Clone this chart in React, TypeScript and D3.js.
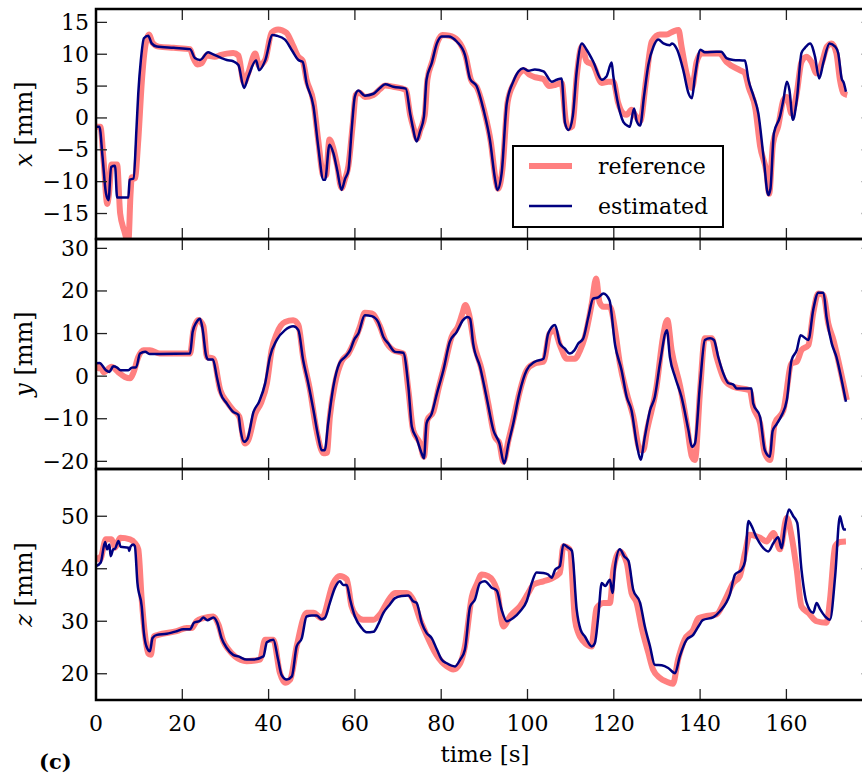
import React from "react";
import * as d3 from "d3";

// shared time axis
const timeTicks = [0, 20, 40, 60, 80, 100, 120, 140, 160];
const xTicks = [-15, -10, -5, 0, 5, 10, 15];
const yTicks = [-20, -10, 0, 10, 20, 30];
const zTicks = [20, 30, 40, 50];

// x [mm]: [time, value]
const xEst: [number, number][] = [
  [0, -1.4], [0.8, -1.4], [1.5, -6], [2.3, -11.8], [2.9, -12.9], [3.5, -7.7], [4.4, -7.5], [4.9, -12.5],
  [7.5, -12.5], [7.8, -9.7], [8.7, -9.5], [9.4, -1.4], [9.8, 3.9], [10.4, 9.1], [11.1, 12.5], [12.1, 12.9],
  [12.9, 11.7], [14.1, 11.2], [18, 11.0], [21.8, 10.8], [22.9, 9.4], [24.1, 9.1], [26, 10.3], [26.8, 10.1],
  [29.1, 9.4], [30.3, 9.1], [31.8, 8.9], [33, 8.3], [34.3, 4.7], [35.3, 6.5], [37.1, 9.0], [37.8, 7.5],
  [39.2, 9.0], [40.9, 13.0], [41.9, 12.9], [43.8, 12.3], [45.5, 10.5], [46.9, 9.1], [47.9, 8.8], [48.8, 5.5],
  [50.4, 1.8], [51.5, -4.5], [52.7, -9.7], [53.1, -9.7], [54.1, -4.2], [55, -5.5], [55.9, -8.2], [56.9, -11.3],
  [57.7, -9.6], [58.5, -8.2], [59.3, -1.4], [60, 3.4], [60.8, 4.3], [62.3, 3.5], [64.3, 3.8], [65.8, 4.7],
  [67, 5.3], [68.9, 4.9], [71.8, 4.6], [72.8, 0.7], [73.4, -1.4], [74.3, -3.7], [75.1, -2.1], [76, 0.2],
  [76.6, 6.0], [77.8, 8.6], [79, 11.7], [80.1, 12.8], [81.7, 12.8], [83.6, 12.0], [85.5, 9.9], [86.7, 6.1],
  [88.2, 5.0], [89.8, 1.3], [91.3, -3.5], [92.5, -9.7], [93, -11.3], [94, -8.7], [95.2, 2.3], [96.7, 5.7],
  [97.9, 7.3], [99, 7.8], [100.2, 7.4], [101.7, 7.6], [103.7, 7.3], [105.6, 5.7], [106.8, 6.0], [107.9, 6.2],
  [108.7, -0.8], [109.5, -1.9], [110.5, 0.3], [111.4, 7.3], [112.6, 11.7], [113.7, 10.7], [115.2, 8.9],
  [117.2, 6.0], [118.3, 6.5], [119.5, 8.7], [119.9, 6.5], [120.8, 2.8], [122.2, -0.6], [123.4, -1.3],
  [123.7, -1.4], [124.7, 1.5], [125.3, -0.5], [126.1, -1.2], [127, 3.4], [128, 8.3], [129.2, 11.2],
  [130.3, 12.3], [131.5, 11.7], [133, 11.4], [133.5, 11.7], [134.7, 10.7], [136.1, 7.5], [137.3, 3.9],
  [138.1, 3.1], [138.8, 6.5], [140.1, 10.7], [141.1, 10.3], [143.8, 10.4], [144.9, 10.4], [146.1, 9.4],
  [147.7, 9.1], [150.4, 9.0], [151.2, 6.0], [152.4, 3.4], [153.5, 0.7], [154.7, -6.1], [155.8, -12.1],
  [156.3, -11.1], [157.1, -2.4], [158.5, 0.2], [159.3, 2.8], [160.1, 5.7], [160.7, 4.4], [161.5, -0.3],
  [162.4, 2.8], [163.5, 10.2], [164.3, 11.0], [165.5, 11.7], [166.6, 9.7], [167.6, 6.2], [168.6, 8.8],
  [170, 11.7], [171.3, 11.2], [172, 10.2], [172.8, 6.2], [173.3, 5.5], [173.8, 4.1],
];

const xRef: [number, number][] = [
  [0, -1.4], [1.0, -1.4], [1.8, -7], [2.6, -13.5], [3.0, -12], [3.6, -7.3], [4.9, -7.3], [5.6, -15],
  [6.5, -17.6], [7.5, -19.5], [8.0, -12], [8.3, -9.3], [9.0, -9.5], [9.8, -3.5], [10.6, 5.5], [11.3, 10.7],
  [12.3, 13.1], [13.1, 11.8], [14.5, 11.2], [18, 11.0], [21.8, 10.8], [22.5, 9.5], [23.5, 8.4], [24.5, 8.6],
  [25.6, 9.8], [27.5, 9.6], [29, 9.9], [30.3, 10.1], [31.8, 10.2], [33, 9.8], [34.3, 5.5], [35.3, 7.1],
  [36.9, 10.1], [37.8, 8.2], [39.2, 9.1], [40.7, 13.4], [42.2, 13.9], [44.1, 13.4], [45.7, 11.3], [46.9, 9.6],
  [47.9, 9.0], [48.8, 6.0], [50.4, 2.5], [51.5, -3.5], [52.7, -9.0], [53.3, -9.0], [54.1, -3.4], [55, -4.8],
  [55.9, -7.5], [56.9, -11.0], [57.7, -9.6], [58.5, -7.5], [59.5, -1.0], [60.2, 3.6], [61, 4.0], [62.3, 3.3],
  [64.3, 3.6], [65.8, 4.5], [67, 5.1], [68.9, 4.9], [71.8, 4.4], [72.8, 0.5], [73.6, -1.6], [74.4, -3.3],
  [75.2, -1.8], [76.2, 0.5], [76.8, 6.0], [78, 9.0], [79.2, 12.0], [80.3, 13.0], [81.9, 12.9], [83.8, 12.2],
  [85.7, 9.6], [86.9, 6.0], [88.4, 4.6], [90, 1.0], [91.5, -3.8], [92.7, -10], [93.2, -11.1], [94.2, -8.0],
  [95.4, 2.5], [96.9, 5.5], [98.1, 7.0], [99.2, 7.5], [100.4, 6.8], [101.7, 6.4], [103.7, 6.1], [105, 5.0],
  [106.5, 5.2], [107.9, 5.5], [108.9, -0.5], [109.6, -1.6], [110.4, -1.3], [111.4, 6.5], [112.6, 11.2],
  [113.7, 8.9], [115.2, 8.3], [117.2, 5.5], [118.7, 5.7], [119.9, 5.7], [121, 2.4], [122.2, 0.7], [123, 0.5],
  [124.1, 1.3], [124.9, 0.5], [126.1, -0.5], [127.5, 6.0], [128.8, 12.0], [130.7, 13.1], [132.2, 13.1],
  [133.8, 13.6], [135, 13.8], [135.7, 11.2], [136.9, 6.9], [138.1, 4.7], [139.2, 8.8], [140.3, 10.1],
  [144.5, 10.1], [146.1, 8.8], [149.2, 7.5], [150.3, 7.1], [151.3, 4.7], [152.8, 1.5], [153.9, -4.4],
  [155.4, -8.6], [156, -11.9], [156.9, -4], [158.1, -1.3], [159.3, 2.8], [160.1, 3.3], [161.2, 0.7],
  [162.4, 3.9], [163.5, 8.8], [164.7, 9.6], [165.8, 8.8], [167, 7.0], [168.2, 8.6], [169.4, 11.2],
  [170.5, 11.7], [171.6, 10.1], [172.4, 6.0], [173.2, 3.9], [174.1, 3.6],
];

// y [mm]
const yEst: [number, number][] = [
  [0, 3.0], [0.8, 3.1], [2.3, 1.4], [3.1, 1.0], [4.0, 2.3], [4.9, 2.0], [5.7, 1.4], [7.5, 1.4], [8.3, 2.0],
  [9.3, 2.1], [10.2, 5.3], [11.4, 5.7], [12.5, 5.2], [14.8, 5.2], [21.8, 5.3], [22.4, 10.4], [23.3, 12.7],
  [24.1, 13.5], [24.7, 11.1], [25.5, 4.9], [26, 3.9], [27.1, 3.9], [28, -0.2], [28.9, -4.1], [30.3, -6.4],
  [31.8, -8.4], [33, -9.1], [33.5, -12.7], [34.3, -15.4], [35.1, -14.7], [36.5, -8.4], [37.8, -6.0],
  [39.2, -1.7], [40.3, 4.5], [41.9, 8.5], [43.8, 10.8], [45.7, 11.7], [46.9, 10.8], [48, 3.8], [49.2, -1.7],
  [50.4, -8.0], [51.5, -14.2], [52.3, -17.4], [53, -17.4], [53.8, -11.1], [55, -2.5], [56.4, 3.0],
  [57.7, 4.5], [58.9, 6.1], [59.8, 8.5], [60.8, 10.0], [62.3, 14.3], [63.9, 14.1], [65.4, 12.7], [66.6, 9.2],
  [67.7, 7.7], [69.3, 5.7], [71.2, 5.5], [72.4, -2.5], [73.2, -11.9], [74.3, -14.6], [75.5, -18.2],
  [76, -19.3], [76.6, -11.1], [77.8, -8.8], [79, -4.1], [80.5, 1.4], [82, 8.1], [83.6, 10.4], [85, 13.1],
  [86.1, 13.9], [86.7, 13.5], [87.4, 7.7], [89, 2.2], [90.5, -4.9], [92.1, -12.7], [93.5, -15.8],
  [94.6, -20.5], [95.6, -15.8], [96.7, -11.1], [98.1, -4.1], [99.8, 1.4], [101.7, 3.4], [103.7, 4.1],
  [104.8, 10.0], [106.4, 12.0], [107.5, 7.7], [108.6, 6.5], [109.8, 5.3], [110.8, 6.0], [111.8, 7.7],
  [112.9, 8.8], [114.1, 13.9], [115.2, 18.2], [116.4, 18.5], [117.6, 19.4], [119, 17.8], [120.3, 7.3],
  [121.8, 1.4], [123, -4.9], [124.1, -8.0], [125.3, -15.8], [126.2, -19.6], [127.2, -14.2], [128.4, -8.0],
  [129.5, -4.9], [130.7, 3.0], [132.3, 10.8], [133, 4.5], [134.2, -0.2], [135.7, -4.9], [137.3, -12.7],
  [138.1, -16.6], [138.8, -15.8], [140, -1.7], [141.1, 8.5], [142.3, 8.9], [143.2, 8.5], [144.2, 4.5],
  [145.4, 0.6], [146.5, -1.6], [147.7, -2.0], [148.5, -2.9], [151.9, -2.9], [152.3, -6.4], [153.9, -9.6],
  [155, -17.4], [156.2, -18.9], [156.8, -12.9], [157.7, -11.3], [158.9, -9.2], [160.1, -5.6], [161.2, 3.8],
  [162.4, 6.1], [163.3, 9.6], [165.1, 8.5], [166.2, 15.5], [167.4, 19.6], [168.6, 19.6], [169.3, 13.9],
  [170.5, 7.7], [171.6, 4.5], [172.8, -0.9], [173.8, -6.0],
];

const yRef: [number, number][] = [
  [0, 1.4], [0.8, 2.5], [1.8, 0.9], [3.6, 2.2], [5.2, 0.9], [6.7, -0.2], [7.9, -0.5], [8.7, 0.9], [9.8, 4.5],
  [11, 6.1], [12.5, 6.1], [14.8, 5.3], [21.8, 5.3], [22.6, 10.8], [23.7, 13.2], [24.9, 11.7], [25.7, 4.5],
  [27.2, 4.1], [28.8, -3.3], [30.3, -6.0], [31.8, -8.0], [33.2, -9.5], [34.5, -15.8], [35.3, -15.0],
  [36.9, -8.8], [38.2, -6.4], [39.6, -1.7], [40.7, 6.1], [41.9, 10.0], [43.8, 12.7], [45.7, 13.1],
  [46.9, 12.0], [48, 4.5], [49.6, -3.3], [51.1, -12.7], [52.7, -18.1], [53.5, -18.0], [54.2, -9.5],
  [55.4, -1.7], [56.9, 3.4], [58.5, 5.3], [60, 8.5], [61.2, 11.7], [62.3, 14.9], [63.9, 14.7], [65.8, 11.7],
  [67, 8.5], [68.9, 6.1], [71.2, 5.3], [72.4, -3.3], [73.5, -12.7], [75.1, -15.8], [76, -18.9],
  [76.8, -10.3], [78.2, -8.3], [79.3, -3.3], [80.9, 3.0], [82.4, 9.2], [83.9, 11.7], [84.9, 14.7],
  [85.6, 16.7], [86.5, 14.3], [87.6, 7.7], [89.4, 1.4], [90.9, -6.4], [92.4, -14.2], [93.5, -15.8],
  [94.4, -20.1], [95.6, -15.0], [96.9, -9.5], [98.1, -4.0], [99.8, 1.4], [101.7, 3.0], [103.7, 3.4],
  [105.1, 10.0], [106.2, 10.8], [107.6, 7.0], [109.1, 4.1], [111, 4.1], [112.2, 6.1], [113.3, 9.2],
  [114.9, 17.1], [115.9, 22.9], [116.7, 17.4], [117.6, 16.3], [119.1, 16.3], [120.3, 10.8], [121.4, 3.0],
  [123, -4.0], [124.5, -9.5], [126.1, -17.4], [126.8, -17.4], [127.7, -12.7], [129.9, -2.5], [131.4, 9.2],
  [132.4, 13.2], [133.4, 6.1], [135.4, -2.5], [136.9, -11.1], [138.1, -18.9], [138.8, -19.7], [140, -3.3],
  [141.1, 8.9], [142.7, 8.9], [143.8, 4.5], [145.7, -1.0], [147.7, -2.5], [151.5, -3.3], [152.3, -7.2],
  [153.9, -11.1], [155, -18.1], [156.2, -19.7], [157.3, -11.1], [159.3, -8.0], [161.2, 3.0], [162.4, 3.4],
  [163.5, 6.1], [165.1, 7.3], [166.2, 14.7], [167.4, 19.4], [168.6, 19.0], [169.7, 12.4], [170.9, 8.5],
  [172, 3.8], [174, -5.6],
];

// z [mm]
const zEst: [number, number][] = [
  [0, 40.5], [1.1, 41.2], [2.1, 45.1], [2.6, 43.7], [3.1, 44.6], [3.4, 42.4], [4.0, 43.7], [4.4, 43.8],
  [5.2, 45.3], [5.7, 44.2], [7.5, 44.0], [7.7, 43.4], [8.0, 44.2], [8.6, 44.6], [9.0, 44.3], [9.6, 37.3],
  [10.6, 32.8], [11.1, 27.8], [11.7, 25.2], [12.5, 24.3], [13.1, 26.8], [14.1, 27.4], [16.4, 27.6],
  [18.7, 28.1], [20.2, 28.5], [21.8, 28.5], [22.7, 29.7], [24.1, 30.1], [24.9, 30.7], [25.8, 30.2],
  [27.2, 30.7], [28.1, 29.7], [29.1, 26.8], [30.3, 24.9], [31.8, 23.6], [33, 23.3], [34.9, 22.7],
  [36.4, 22.7], [38.8, 23.3], [39.6, 26.0], [41.1, 26.5], [42.2, 22.7], [43, 19.8], [44.2, 18.9],
  [45.4, 19.5], [46.5, 25.2], [47.7, 26.8], [48.8, 30.9], [50, 31.1], [51.1, 31.1], [52.3, 30.4], [53, 30.6],
  [54.2, 33.5], [55.4, 36.4], [56.5, 37.6], [57.3, 36.9], [58.1, 36.9], [58.9, 34.1], [60, 30.9],
  [61.6, 28.7], [62.7, 27.9], [64.3, 28.0], [65.4, 29.4], [66.6, 31.6], [68.1, 33.2], [69.3, 34.4],
  [70.8, 34.8], [72.4, 34.9], [73.5, 33.8], [74.3, 33.5], [75.5, 29.7], [76.6, 27.8], [77.8, 26.8],
  [79, 24.6], [80.1, 22.7], [81.3, 22.0], [83.2, 21.4], [84.4, 22.7], [85.5, 24.6], [86.7, 32.8],
  [87.8, 34.1], [89, 37.3], [90.1, 37.6], [91.7, 36.4], [92.9, 35.8], [94, 32.2], [95.2, 30.0], [96.7, 30.6],
  [98.3, 31.9], [99.8, 33.8], [101, 37.3], [102.1, 39.3], [103.7, 39.2], [104.8, 38.9], [105.6, 38.3],
  [106.4, 39.8], [107.5, 40.5], [108.3, 44.6], [109.5, 44.0], [110.3, 43.4], [111.4, 32.2], [112.3, 28.4],
  [113.3, 27.1], [114.9, 25.2], [115.6, 25.8], [116.4, 30.9], [117.2, 37.3], [118, 36.7], [119.1, 37.9],
  [119.7, 35.4], [120.3, 40.5], [121.4, 43.7], [122.4, 42.4], [123.4, 41.5], [124.5, 36.0], [126.1, 33.5],
  [127.2, 29.0], [128.4, 25.2], [129.5, 21.7], [131.1, 21.6], [132.6, 21.1], [134.2, 20.1], [135.3, 23.3],
  [136.9, 26.5], [138.4, 27.4], [139.6, 29.0], [140.6, 30.2], [143.1, 30.8], [144.6, 31.9], [146.9, 35.1],
  [148.1, 38.9], [149.6, 39.8], [150.4, 41.4], [151.2, 49.1], [151.9, 48.2], [153.1, 45.9], [154.3, 44.3],
  [155.8, 43.3], [157, 44.9], [158.1, 46.0], [158.9, 43.9], [159.7, 48.1], [160.6, 51.3], [161.6, 50.0],
  [162.5, 48.8], [163.5, 39.8], [164.7, 33.5], [166.2, 31.6], [167, 33.5], [167.8, 32.3], [169, 30.9],
  [170.1, 30.3], [171.3, 38.6], [172.4, 50.0], [172.9, 48.5], [173.3, 47.5], [173.8, 47.5],
];

const zRef: [number, number][] = [
  [0, 42.4], [0.9, 41.7], [2.3, 45.6], [3.6, 45.6], [4.4, 44.0], [5.6, 45.9], [7.9, 45.6], [9.0, 44.9],
  [9.8, 43.7], [10.6, 34.1], [11.4, 27.1], [12.1, 23.9], [12.7, 23.6], [13.4, 27.1], [14.4, 27.4],
  [18.7, 28.1], [21, 28.7], [22.2, 28.7], [23.3, 30.0], [24.9, 30.6], [27.2, 30.9], [28.4, 29.3],
  [29.5, 26.2], [30.7, 24.6], [32.2, 23.3], [34.9, 22.4], [38, 22.7], [39.2, 26.5], [41.1, 26.5],
  [42.6, 20.2], [43.8, 18.3], [45, 18.9], [46.5, 25.2], [48.8, 31.6], [50.4, 31.6], [52.3, 30.6], [55, 37.3],
  [56.5, 38.6], [58.1, 38.0], [59.2, 32.9], [60.4, 31.0], [61.9, 30.3], [64.3, 30.3], [65.8, 31.3],
  [67.4, 33.5], [69.3, 35.4], [72, 35.4], [73.5, 34.1], [75.1, 30.3], [76.6, 27.4], [78.9, 23.6],
  [81.3, 21.4], [82.8, 20.8], [84.4, 22.0], [85.5, 25.2], [87.1, 34.7], [88.2, 37.0], [89.4, 38.9],
  [90.9, 38.6], [92.9, 36.0], [94.4, 29.0], [96, 31.0], [98.3, 32.9], [100.2, 35.4], [101.4, 37.0],
  [103.7, 37.6], [105.2, 38.0], [107.5, 39.2], [108.3, 44.3], [109.8, 43.7], [111, 30.3], [111.8, 27.7],
  [112.9, 26.2], [114.9, 25.2], [115.2, 27.1], [116, 32.5], [117.6, 33.5], [119.1, 33.5], [119.9, 39.8],
  [121.4, 43.3], [123, 41.1], [124.1, 35.4], [125.3, 33.5], [126.4, 29.0], [128, 24.0], [129.1, 20.8],
  [130.7, 19.2], [132.2, 18.5], [133.7, 18.1], [134.9, 22.7], [136.4, 26.5], [138.4, 28.4], [139.6, 30.6],
  [141.5, 31.0], [143.8, 31.3], [145.8, 34.1], [147.7, 37.3], [149.2, 38.6], [150.4, 43.0], [151.5, 46.5],
  [153.9, 45.9], [155.4, 45.2], [157, 46.8], [158.5, 43.7], [160.1, 49.7], [161.2, 46.2], [162.4, 39.8],
  [163.5, 32.8], [165.1, 31.6], [167, 30.0], [169.3, 29.7], [170.1, 34.1], [171.3, 44.3], [172.4, 45.1],
  [173.8, 45.2],
];

const refColor = "#ff8080";
const estColor = "#000080";
const font = "'DejaVu Serif', serif";

export default function App() {
  const width = 862;
  const height = 774;
  const left = 96;
  const right = 872.7;
  const bounds = [9, 239, 469, 700];
  const tick = 11;

  const x = d3.scaleLinear().domain([0, 180]).range([left, right]);

  const panels = [
    { name: "x", ref: xRef, est: xEst, domain: [-19, 17.1], ticks: xTicks },
    { name: "y", ref: yRef, est: yEst, domain: [-21.8, 32.2], ticks: yTicks },
    { name: "z", ref: zRef, est: zEst, domain: [15, 59], ticks: zTicks },
  ];

  return (
    <svg
      width={width}
      height={height}
      style={{ position: "absolute", left: 0, top: 0, background: "#fff" }}
      fontFamily={font}
    >
      <defs>
        {panels.map((p, i) => (
          <clipPath id={`clip-${p.name}`} key={p.name}>
            <rect x={left} y={bounds[i]} width={right - left} height={bounds[i + 1] - bounds[i]} />
          </clipPath>
        ))}
      </defs>
      {panels.map((p, i) => {
        const top = bounds[i];
        const bottom = bounds[i + 1];
        const y = d3.scaleLinear().domain(p.domain).range([bottom, top]);
        const line = d3
          .line<[number, number]>()
          .x((d) => x(d[0]))
          .y((d) => y(d[1]))
          .curve(d3.curveMonotoneX);
        return (
          <g key={p.name}>
            <g clipPath={`url(#clip-${p.name})`}>
              <path d={line(p.ref) || ""} fill="none" stroke={refColor} strokeWidth={6} strokeLinejoin="round" />
              <path d={line(p.est) || ""} fill="none" stroke={estColor} strokeWidth={2.5} strokeLinejoin="round" />
            </g>
            {timeTicks.map((t) => (
              <g key={t} stroke="#222" strokeWidth={1.3}>
                <line x1={x(t)} x2={x(t)} y1={top} y2={top + tick} />
                <line x1={x(t)} x2={x(t)} y1={bottom} y2={bottom - tick} />
              </g>
            ))}
            {p.ticks.map((v) => (
              <g key={v}>
                <line x1={left} x2={left + tick} y1={y(v)} y2={y(v)} stroke="#222" strokeWidth={1.3} />
                <line x1={right} x2={right - tick} y1={y(v)} y2={y(v)} stroke="#222" strokeWidth={1.3} />
                <text x={left - 7} y={y(v)} textAnchor="end" dominantBaseline="central" fontSize={22}>
                  {d3.format("d")(v)}
                </text>
              </g>
            ))}
            <text
              transform={`translate(32,${(top + bottom) / 2}) rotate(-90)`}
              textAnchor="middle"
              fontSize={24}
            >
              <tspan fontStyle="italic">{p.name}</tspan> [mm]
            </text>
            <rect x={left} y={top} width={right - left} height={bottom - top} fill="none" stroke="#000" strokeWidth={2.5} />
          </g>
        );
      })}
      {timeTicks.map((t) => (
        <text key={t} x={x(t)} y={731} textAnchor="middle" fontSize={22}>
          {t}
        </text>
      ))}
      <text x={485} y={762} textAnchor="middle" fontSize={23}>
        time [s]
      </text>
      <text x={39} y={769} fontSize={21} fontWeight="bold">
        (c)
      </text>
      <g>
        <rect x={513} y={146} width={210} height={81} fill="#fff" stroke="#000" strokeWidth={2} />
        <line x1={529} x2={572} y1={166} y2={166} stroke={refColor} strokeWidth={6} />
        <line x1={529} x2={572} y1={206} y2={206} stroke={estColor} strokeWidth={2.5} />
        <text x={598} y={166} dominantBaseline="central" fontSize={22}>
          reference
        </text>
        <text x={598} y={206} dominantBaseline="central" fontSize={22}>
          estimated
        </text>
      </g>
    </svg>
  );
}
